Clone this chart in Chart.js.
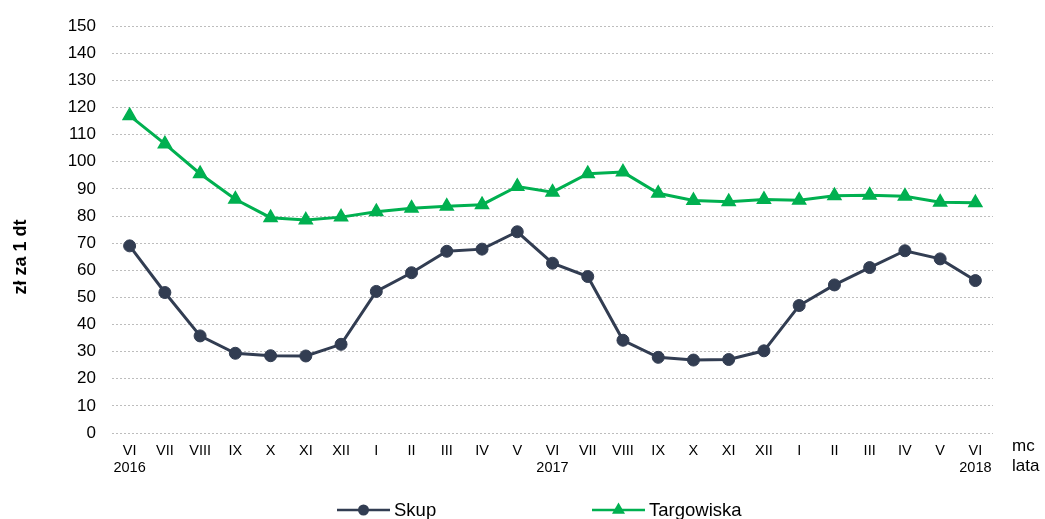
<!DOCTYPE html>
<html>
<head>
<meta charset="utf-8">
<script src="https://cdn.jsdelivr.net/npm/chart.js@4"></script>
<style>
  html, body { margin: 0; padding: 0; background: #fff; overflow: hidden; }
  #wrap { width: 1045px; height: 519px; position: relative; }
</style>
</head>
<body>
<div id="wrap"><canvas id="canvas"></canvas></div>
<script>
const months = ["VI", "VII", "VIII", "IX", "X", "XI", "XII", "I", "II", "III", "IV", "V",
                "VI", "VII", "VIII", "IX", "X", "XI", "XII", "I", "II", "III", "IV", "V", "VI"];
const years = { 0: "2016", 12: "2017", 24: "2018" };

const skup = [69.0, 51.8, 35.8, 29.4, 28.5, 28.4, 32.7, 52.2, 59.1, 67.0, 67.8, 74.2,
              62.6, 57.7, 34.2, 27.9, 26.9, 27.1, 30.3, 47.0, 54.6, 61.0, 67.2, 64.2, 56.2];
const targowiska = [117.0, 106.6, 95.6, 86.2, 79.4, 78.5, 79.6, 81.6, 82.9, 83.6, 84.2, 90.9,
                    88.8, 95.6, 96.2, 88.4, 85.7, 85.3, 86.1, 85.8, 87.5, 87.7, 87.3, 85.1, 84.9];

const FONT = "'Liberation Sans', Arial, sans-serif";
const colSkup = "#323d52";
const colTarg = "#00b050";

const labels = months.map((m, i) => years[i] ? [m, years[i]] : m);

// legend, axis title and "mc / lata" drawn by hand so the spacing matches
const extras = {
  id: "extras",
  afterDraw(chart) {
    const ctx = chart.ctx;
    ctx.save();

    ctx.save();
    ctx.translate(21, 257);
    ctx.rotate(-Math.PI / 2);
    ctx.fillStyle = "#000";
    ctx.font = "bold 18px " + FONT;
    ctx.textAlign = "center";
    ctx.textBaseline = "middle";
    ctx.fillText("zł za 1 dt", 0, 0);
    ctx.restore();

    ctx.fillStyle = "#000";
    ctx.font = "17px " + FONT;
    ctx.textAlign = "left";
    ctx.textBaseline = "alphabetic";
    ctx.fillText("mc", 1012, 451);
    ctx.fillText("lata", 1012, 471);

    const items = [
      { x: 337, text: "Skup", color: colSkup, style: "circle" },
      { x: 592, text: "Targowiska", color: colTarg, style: "triangle" },
    ];
    const y = 510;
    items.forEach(it => {
      ctx.strokeStyle = it.color;
      ctx.fillStyle = it.color;
      ctx.lineWidth = 2.5;
      ctx.beginPath();
      ctx.moveTo(it.x, y);
      ctx.lineTo(it.x + 53, y);
      ctx.stroke();
      const cx = it.x + 26.5;
      ctx.beginPath();
      if (it.style === "circle") {
        ctx.arc(cx, y, 5.5, 0, Math.PI * 2);
      } else {
        const r = 7.5;
        ctx.moveTo(cx, y - r);
        ctx.lineTo(cx + r * 0.866, y + r * 0.5);
        ctx.lineTo(cx - r * 0.866, y + r * 0.5);
        ctx.closePath();
      }
      ctx.fill();
      ctx.fillStyle = "#000";
      ctx.font = "18.5px " + FONT;
      ctx.fillText(it.text, it.x + 57, 516);
    });
    ctx.restore();
  }
};

const chart = new Chart(document.getElementById("canvas").getContext("2d"), {
  type: "line",
  data: {
    labels: labels,
    datasets: [
      {
        label: "Skup",
        data: skup,
        borderColor: colSkup,
        backgroundColor: colSkup,
        pointBackgroundColor: colSkup,
        pointBorderColor: colSkup,
        borderWidth: 3,
        pointStyle: "circle",
        pointRadius: 6,
        pointBorderWidth: 1,
        tension: 0,
      },
      {
        label: "Targowiska",
        data: targowiska,
        borderColor: colTarg,
        backgroundColor: colTarg,
        pointBackgroundColor: colTarg,
        pointBorderColor: colTarg,
        borderWidth: 3,
        pointStyle: "triangle",
        pointRadius: 7.5,
        pointBorderWidth: 1.5,
        tension: 0,
      },
    ]
  },
  options: {
    responsive: true,
    maintainAspectRatio: false,
    animation: false,
    layout: { padding: { left: 0, top: 19, right: 52, bottom: 36 } },
    plugins: {
      legend: { display: false },
      tooltip: { enabled: false },
    },
    scales: {
      x: {
        type: "category",
        offset: true,
        grid: { display: false, drawTicks: false },
        border: { display: false },
        ticks: {
          color: "#000",
          font: { family: FONT, size: 14.5, lineHeight: 1.2 },
          padding: 9,
          maxRotation: 0,
          autoSkip: false,
        },
        afterFit: (scale) => { scale.height = 50; },
      },
      y: {
        min: 0,
        max: 150,
        grid: { color: "#bdbdbd", lineWidth: 1, drawTicks: false },
        border: { display: false, dash: [2, 2] },
        ticks: {
          stepSize: 10,
          color: "#000",
          font: { family: FONT, size: 17 },
          padding: 16,
        },
        afterFit: (scale) => { scale.width = 112; },
      }
    }
  },
  plugins: [extras]
});
</script>
</body>
</html>
